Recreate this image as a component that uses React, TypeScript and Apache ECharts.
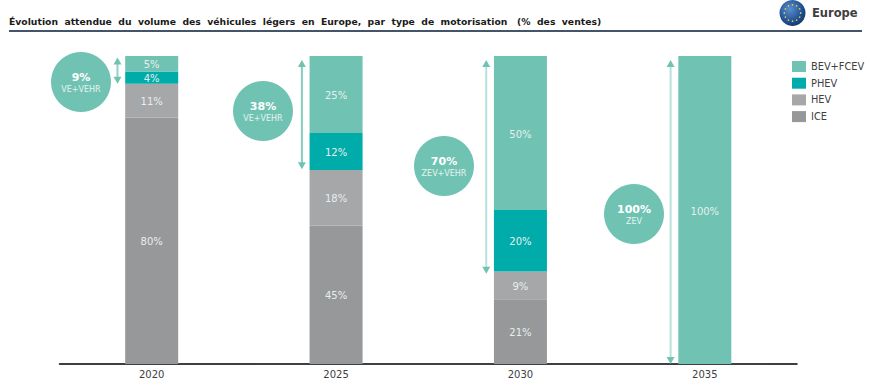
import React, { useEffect, useRef } from "react";
import * as echarts from "echarts";

const years = ["2020", "2025", "2030", "2035"];
const ice = [80, 45, 21, null];
const hev = [11, 18, 9, null];
const phev = [4, 12, 20, null];
const bev = [5, 25, 50, 100];
// arrows: category index, lower value, upper value, shaft opacity
const arrows = [
  [0, 91, 99.5, 0.75],
  [1, 63.2, 98.7, 0.85],
  [2, 29.3, 98.7, 0.5],
  [3, 0, 98.7, 0.5],
];
const bubblePercents = ["9%", "38%", "70%", "100%"];
const bubbleNames = ["VE+VEHR", "VE+VEHR", "ZEV+VEHR", "ZEV"];
const bubbleX = [81, 263, 444, 634];
const bubbleY = [82, 111, 166, 214];

const TEAL = "#70c3b3";
const FONT = "'DejaVu Sans', Verdana, sans-serif";

const stars = Array.from({ length: 12 }, (_, i) => ({
  type: "circle",
  shape: {
    cx: 792.5 + 8.2 * Math.cos((i * Math.PI) / 6),
    cy: 13 + 8.2 * Math.sin((i * Math.PI) / 6),
    r: 0.8,
  },
  style: { fill: "#d9d24f" },
  z: 12,
}));

export default function App() {
  const ref = useRef<HTMLDivElement>(null);
  useEffect(() => {
    const chart = echarts.init(ref.current!, null, { renderer: "svg" });
    const barSeries = (name: string, data: (number | null)[], color: string) => ({
      name,
      type: "bar",
      stack: "total",
      barWidth: 53,
      data,
      itemStyle: { color },
      label: {
        show: true,
        position: "inside",
        offset: [0, 1],
        formatter: "{c}%",
        color: "#e6efed",
        fontSize: 10,
        fontFamily: FONT,
      },
    });
    const bubbles = bubblePercents.flatMap((p, i) => [
      {
        type: "circle",
        shape: { cx: bubbleX[i], cy: bubbleY[i], r: 30 },
        style: { fill: TEAL },
        z: 10,
      },
      {
        type: "text",
        x: bubbleX[i],
        y: bubbleY[i] - 5,
        style: {
          text: p,
          fill: "#ffffff",
          font: `bold 11px ${FONT}`,
          align: "center",
          verticalAlign: "middle",
        },
        z: 11,
      },
      {
        type: "text",
        x: bubbleX[i],
        y: bubbleY[i] + 7,
        style: {
          text: bubbleNames[i],
          fill: "#e6f3f0",
          font: `8px ${FONT}`,
          align: "center",
          verticalAlign: "middle",
        },
        z: 11,
      },
    ]);
    chart.setOption({
      animation: false,
      grid: { left: 59.5, top: 56, width: 737.5, height: 308 },
      legend: {
        orient: "vertical",
        left: 792,
        top: 61,
        padding: 0,
        itemWidth: 14,
        itemHeight: 11,
        itemGap: 5.7,
        icon: "rect",
        data: ["BEV+FCEV", "PHEV", "HEV", "ICE"],
        textStyle: { fontSize: 9.8, fontFamily: FONT, color: "#404040" },
      },
      xAxis: {
        type: "category",
        data: years,
        axisLine: { lineStyle: { color: "#000", width: 1.5 } },
        axisTick: { show: false },
        axisLabel: { fontSize: 10, fontFamily: FONT, color: "#404040", margin: 5 },
      },
      yAxis: { type: "value", min: 0, max: 100, show: false, splitLine: { show: false } },
      series: [
        barSeries("ICE", ice, "#979899"),
        barSeries("HEV", hev, "#a6a7a9"),
        barSeries("PHEV", phev, "#00aca9"),
        barSeries("BEV+FCEV", bev, TEAL),
        {
          type: "custom",
          silent: true,
          data: arrows,
          encode: { x: 0, y: [1, 2] },
          renderItem: (_: any, api: any) => {
            const top = api.coord([api.value(0), api.value(2)]);
            const bottom = api.coord([api.value(0), api.value(1)]);
            const x = top[0] - 34.2;
            const op = api.value(3);
            return {
              type: "group",
              children: [
                {
                  type: "line",
                  shape: { x1: x, y1: top[1] + 6, x2: x, y2: bottom[1] - 6 },
                  style: { stroke: TEAL, lineWidth: 2, opacity: op },
                },
                {
                  type: "polygon",
                  shape: { points: [[x, top[1]], [x - 4, top[1] + 7], [x + 4, top[1] + 7]] },
                  style: { fill: TEAL },
                },
                {
                  type: "polygon",
                  shape: { points: [[x, bottom[1]], [x - 4, bottom[1] - 7], [x + 4, bottom[1] - 7]] },
                  style: { fill: TEAL },
                },
              ],
            };
          },
        },
      ],
      graphic: [
        {
          type: "text",
          x: 9,
          y: 21,
          style: {
            text: "Évolution  attendue  du  volume  des  véhicules  légers  en  Europe,  par  type  de  motorisation   (%  des  ventes)",
            font: `bold 9.25px ${FONT}`,
            fill: "#1a1a1a",
            verticalAlign: "middle",
          },
        },
        {
          type: "rect",
          shape: { x: 9, y: 30, width: 853, height: 2 },
          style: { fill: "#44546a" },
        },
        {
          type: "circle",
          shape: { cx: 792.5, cy: 13, r: 13 },
          style: {
            fill: {
              type: "radial",
              x: 0.4,
              y: 0.35,
              r: 0.7,
              colorStops: [
                { offset: 0, color: "#5b8fce" },
                { offset: 0.7, color: "#1f4f93" },
                { offset: 1, color: "#16365f" },
              ],
            },
          },
          z: 11,
        },
        ...stars,
        {
          type: "text",
          x: 812,
          y: 13,
          style: {
            text: "Europe",
            font: `bold 11.5px ${FONT}`,
            fill: "#404040",
            verticalAlign: "middle",
          },
        },
        ...bubbles,
      ],
    });
    return () => chart.dispose();
  }, []);
  return (
    <div
      ref={ref}
      style={{ position: "fixed", left: 0, top: 0, width: 874, height: 384, background: "#fff" }}
    />
  );
}
